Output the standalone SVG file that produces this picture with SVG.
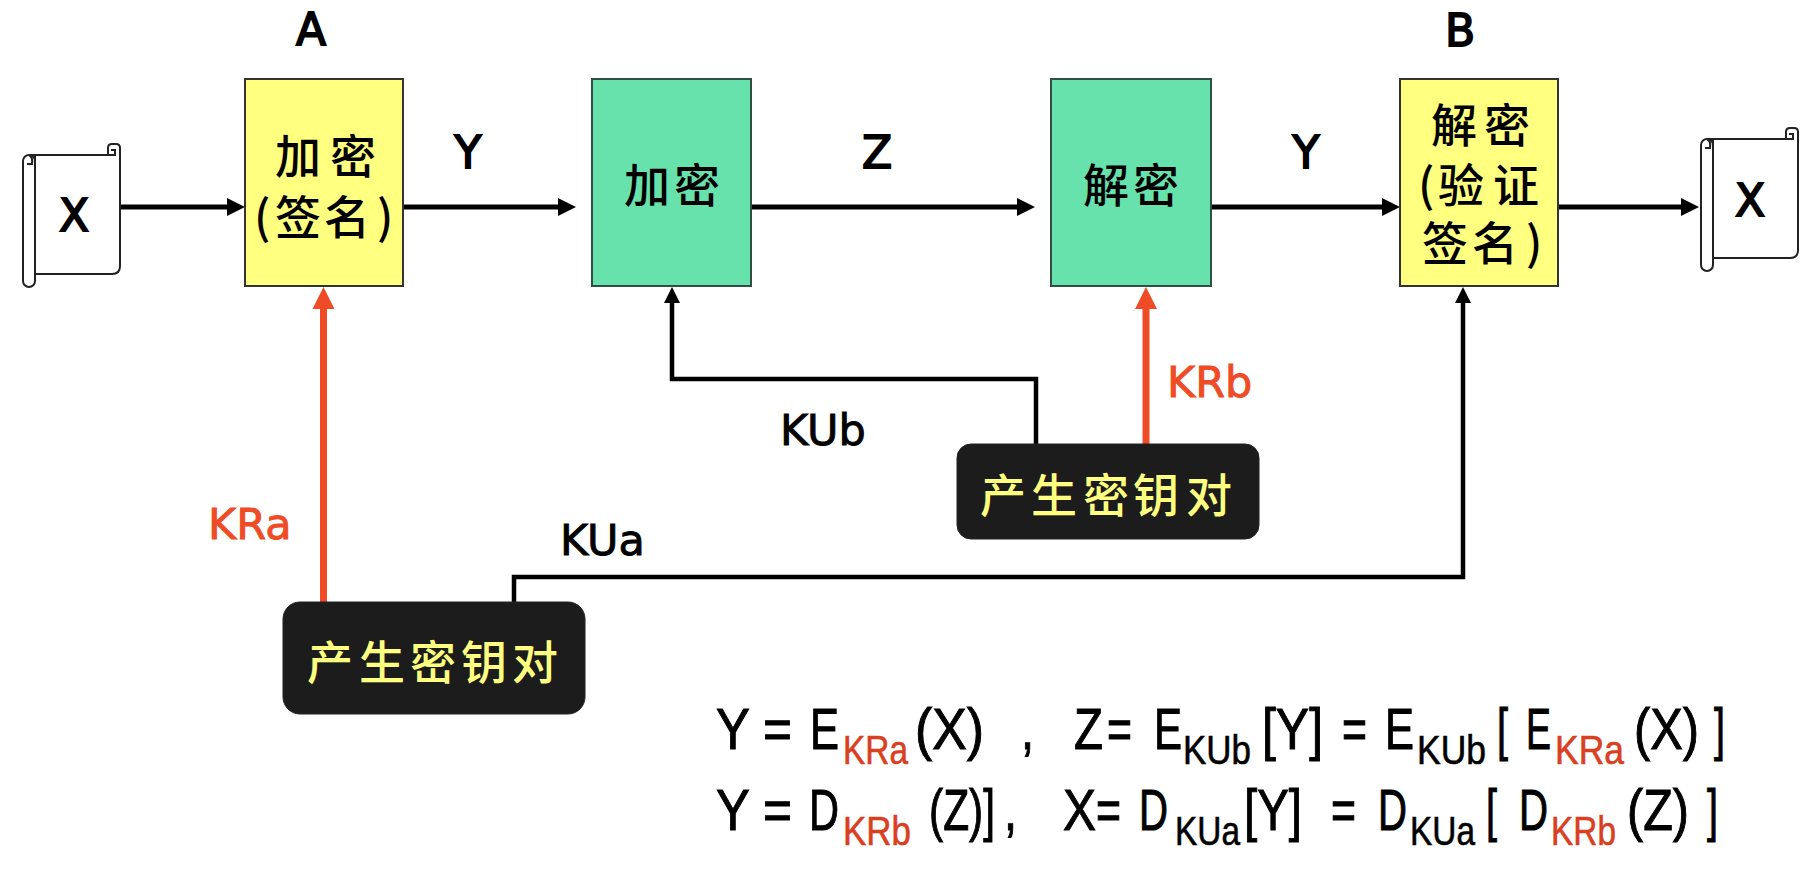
<svg xmlns="http://www.w3.org/2000/svg" width="1814" height="872" viewBox="0 0 1814 872">
<style>
.sig{fill:#ffff80;stroke:#333;stroke-width:2}
.enc{fill:#68e2ac;stroke:#2f4f45;stroke-width:2}
.gen{fill:#1c1c1c;stroke:#222;stroke-width:1}
.cjk{font-family:"Noto Sans CJK SC",sans-serif;font-size:46px;fill:#000;font-weight:500}
.cjk.y{fill:#ffff80}
.lab{font-family:"DejaVu Sans",sans-serif;font-size:43px;fill:#000;stroke:#000;stroke-width:.9}
.lab.r{fill:#ee4b26;stroke:#ee4b26}
.big{font-size:44px;stroke-width:1.8}
.mid{text-anchor:middle}
.f{font-family:"Liberation Sans",sans-serif;font-size:57px;fill:#000;stroke:#000;stroke-width:1}
.s{font-size:41px;stroke-width:.6}
.sr{font-size:41px;fill:#d9401f;stroke:#d9401f;stroke-width:.6}
.blk{fill:none;stroke:#000;stroke-width:5}
.blk2{fill:none;stroke:#000;stroke-width:4.5}
.red{fill:none;stroke:#ee4b26;stroke-width:7}
.scr{fill:#fff;stroke:#222;stroke-width:2}
</style>
<defs>
<marker id="hb" markerUnits="userSpaceOnUse" markerWidth="20" markerHeight="20" refX="0" refY="10" orient="auto"><path d="M0 1L18 10L0 19Z" fill="#000"/></marker>
<marker id="hs" markerUnits="userSpaceOnUse" markerWidth="18" markerHeight="18" refX="0" refY="9" orient="auto"><path d="M0 1L16 9L0 17Z" fill="#000"/></marker>
<marker id="hr" markerUnits="userSpaceOnUse" markerWidth="24" markerHeight="24" refX="0" refY="12" orient="auto"><path d="M0 1L22 12L0 23Z" fill="#ee4b26"/></marker>
<g id="scroll">
<path class="scr" d="M6 11H85V4Q85 0 89 0H93Q97 0 97 4V122Q97 130 89 130H12V11Z"/>
<path class="scr" d="M85 11H92V6H88"/>
<rect class="scr" x="0" y="11" width="12" height="132" rx="6"/>
<path class="scr" d="M6 11Q10 13 9 20H4"/>
</g>
</defs>
<g id="connectors">
<path class="blk" marker-end="url(#hb)" d="M120 207H227"/>
<path class="blk" marker-end="url(#hb)" d="M403 207H558"/>
<path class="blk" marker-end="url(#hb)" d="M751 207H1017"/>
<path class="blk" marker-end="url(#hb)" d="M1211 207H1382"/>
<path class="blk" marker-end="url(#hb)" d="M1558 207H1681"/>
<path class="red" marker-end="url(#hr)" d="M323.500 602V309"/>
<path class="red" marker-end="url(#hr)" d="M1146 444V309"/>
<path class="blk2" marker-end="url(#hs)" d="M1036 444V379H672V303"/>
<path class="blk2" marker-end="url(#hs)" d="M514 602V577H1463V303"/>
</g>
<g id="doc-in"><use href="#scroll" x="23" y="144"/><text class="lab big mid" x="74" y="231">X</text></g>
<g id="sign"><rect class="sig" x="245" y="79" width="158" height="207"/>
<text class="cjk" x="275 330" y="173">加密</text><text class="cjk" x="254 275 324 377" y="234">(签名)</text></g>
<g id="encrypt"><rect class="enc" x="592" y="79" width="159" height="207"/><text class="cjk" x="624 674" y="202">加密</text></g>
<g id="decrypt"><rect class="enc" x="1051" y="79" width="160" height="207"/><text class="cjk" x="1083 1133" y="202">解密</text></g>
<g id="verify"><rect class="sig" x="1400" y="79" width="158" height="207"/>
<text class="cjk" x="1431 1484" y="142">解密</text><text class="cjk" x="1418 1438 1493" y="202">(验证</text><text class="cjk" x="1422 1472 1526" y="260">签名)</text></g>
<g id="doc-out"><use href="#scroll" x="1701" y="128"/><text class="lab big mid" x="1750" y="216">X</text></g>
<g id="keygen-a"><rect class="gen" x="283" y="602" width="302" height="112" rx="17"/><text class="cjk y" x="307 359 410 461 512" y="679">产生密钥对</text></g>
<g id="keygen-b"><rect class="gen" x="957" y="444" width="302" height="95" rx="14"/><text class="cjk y" x="980 1031 1083 1133 1186" y="512">产生密钥对</text></g>
<g id="labels">
<text class="lab big mid" x="311" y="45">A</text>
<text class="lab big mid" x="1460" y="46">B</text>
<text class="lab big mid" x="468" y="168">Y</text>
<text class="lab big mid" x="877" y="168">Z</text>
<text class="lab big mid" x="1306" y="168">Y</text>
<text class="lab r" x="208" y="539">KRa</text>
<text class="lab" x="560" y="555">KUa</text>
<text class="lab" x="780" y="445">KUb</text>
<text class="lab r" x="1167" y="397">KRb</text>
</g>
<g id="formulas">
<text class="f" y="749"><tspan x="716" textLength="33" lengthAdjust="spacingAndGlyphs">Y</tspan> <tspan x="763" textLength="29" lengthAdjust="spacingAndGlyphs">=</tspan> <tspan x="810" textLength="29" lengthAdjust="spacingAndGlyphs">E</tspan><tspan class="sr" x="843" y="764" textLength="65" lengthAdjust="spacingAndGlyphs">KRa</tspan> <tspan x="915" y="749" textLength="69" lengthAdjust="spacingAndGlyphs">(X)</tspan> <tspan x="1021" textLength="13" lengthAdjust="spacingAndGlyphs">,</tspan> <tspan x="1074" textLength="29" lengthAdjust="spacingAndGlyphs">Z</tspan><tspan x="1107" textLength="25" lengthAdjust="spacingAndGlyphs">=</tspan> <tspan x="1154" textLength="28" lengthAdjust="spacingAndGlyphs">E</tspan><tspan class="s" x="1183" y="764" textLength="68" lengthAdjust="spacingAndGlyphs">KUb</tspan> <tspan x="1262" y="749" textLength="61" lengthAdjust="spacingAndGlyphs">[Y]</tspan> <tspan x="1342" textLength="25" lengthAdjust="spacingAndGlyphs">=</tspan> <tspan x="1385" textLength="29" lengthAdjust="spacingAndGlyphs">E</tspan><tspan class="s" x="1417" y="764" textLength="69" lengthAdjust="spacingAndGlyphs">KUb</tspan> <tspan x="1497" y="749" textLength="11" lengthAdjust="spacingAndGlyphs">[</tspan> <tspan x="1526" textLength="25" lengthAdjust="spacingAndGlyphs">E</tspan><tspan class="sr" x="1555" y="764" textLength="69" lengthAdjust="spacingAndGlyphs">KRa</tspan> <tspan x="1634" y="749" textLength="65" lengthAdjust="spacingAndGlyphs">(X)</tspan> <tspan x="1714" textLength="11" lengthAdjust="spacingAndGlyphs">]</tspan></text>
<text class="f" y="830"><tspan x="716" textLength="33" lengthAdjust="spacingAndGlyphs">Y</tspan> <tspan x="763" textLength="29" lengthAdjust="spacingAndGlyphs">=</tspan> <tspan x="809" textLength="30" lengthAdjust="spacingAndGlyphs">D</tspan><tspan class="sr" x="843" y="845" textLength="68" lengthAdjust="spacingAndGlyphs">KRb</tspan> <tspan x="929" y="830" textLength="66" lengthAdjust="spacingAndGlyphs">(Z)]</tspan><tspan x="1004" textLength="13" lengthAdjust="spacingAndGlyphs">,</tspan> <tspan x="1063" textLength="33" lengthAdjust="spacingAndGlyphs">X</tspan><tspan x="1096" textLength="25" lengthAdjust="spacingAndGlyphs">=</tspan> <tspan x="1139" textLength="29" lengthAdjust="spacingAndGlyphs">D</tspan><tspan class="s" x="1175" y="845" textLength="65" lengthAdjust="spacingAndGlyphs">KUa</tspan><tspan x="1244" y="830" textLength="58" lengthAdjust="spacingAndGlyphs">[Y]</tspan> <tspan x="1331" textLength="25" lengthAdjust="spacingAndGlyphs">=</tspan> <tspan x="1378" textLength="29" lengthAdjust="spacingAndGlyphs">D</tspan><tspan class="s" x="1410" y="845" textLength="65" lengthAdjust="spacingAndGlyphs">KUa</tspan> <tspan x="1486" y="830" textLength="11" lengthAdjust="spacingAndGlyphs">[</tspan> <tspan x="1519" textLength="29" lengthAdjust="spacingAndGlyphs">D</tspan><tspan class="sr" x="1551" y="845" textLength="65" lengthAdjust="spacingAndGlyphs">KRb</tspan> <tspan x="1627" y="830" textLength="62" lengthAdjust="spacingAndGlyphs">(Z)</tspan> <tspan x="1707" textLength="11" lengthAdjust="spacingAndGlyphs">]</tspan></text>
</g>
</svg>
